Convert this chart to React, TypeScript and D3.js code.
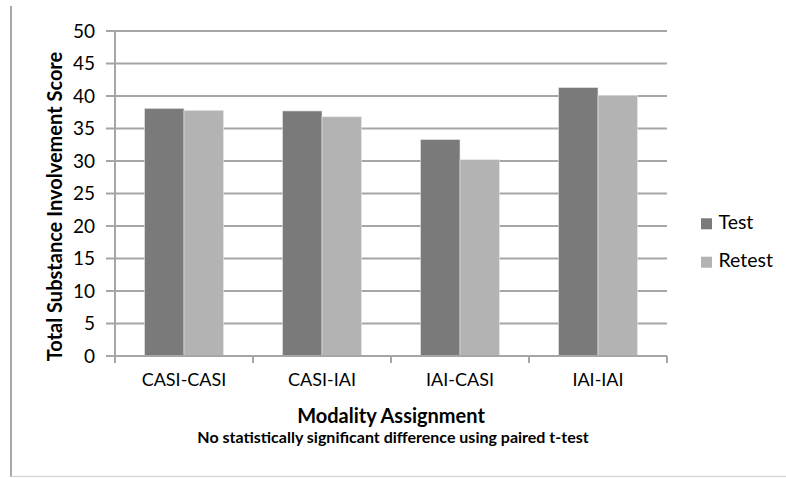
import React from "react";
import * as d3 from "d3";

const categories = ["CASI-CASI", "CASI-IAI", "IAI-CASI", "IAI-IAI"];
const seriesNames = ["Test", "Retest"];
const testValues = [38.1, 37.7, 33.3, 41.3];
const retestValues = [37.8, 36.8, 30.2, 40.1];
const yTicks = [0, 5, 10, 15, 20, 25, 30, 35, 40, 45, 50];
const colors = ["#7a7a7a", "#b3b3b3"];
const yTitle = "Total Substance Involvement Score";
const xTitle = "Modality Assignment";
const note = "No statistically significant difference using paired t-test";

const W = 786;
const H = 478;
const FONT = "Lato, 'Open Sans', sans-serif";

export default function App() {
  const left = 115, right = 667, top = 31, bottom = 356;
  const y = d3.scaleLinear().domain([0, 50]).range([bottom, top]);
  const x = d3.scaleBand<string>().domain(categories).range([left, right]).padding(0);
  const xs = d3
    .scaleBand<string>()
    .domain(seriesNames)
    .range([0, x.bandwidth()])
    .paddingInner(0)
    .paddingOuter(0.747);
  const series = [testValues, retestValues];
  const boundaries = [...categories.map((c) => x(c) as number), right];

  return (
    <svg
      width={W}
      height={H}
      style={{ position: "absolute", left: 0, top: 0, background: "#fff" }}
      fontFamily={FONT}
    >
      {/* frame */}
      <line x1={11} x2={11} y1={6} y2={477} stroke="#a9a9a9" strokeWidth={2} />
      <line x1={11} x2={W} y1={476.5} y2={476.5} stroke="#d9d9d9" strokeWidth={1.5} />

      {/* gridlines + y ticks */}
      {yTicks.map((t) => (
        <g key={t}>
          <line x1={106} x2={right} y1={y(t)} y2={y(t)} stroke="#a6a6a6" strokeWidth={2} />
          <text x={95} y={y(t)} dy="0.36em" textAnchor="end" fontSize={19} fill="#000">
            {t}
          </text>
        </g>
      ))}

      {/* bars */}
      {categories.map((c, i) => (
        <g key={c}>
          {seriesNames.map((s, j) => (
            <rect
              key={s}
              x={(x(c) as number) + (xs(s) as number)}
              y={y(series[j][i])}
              width={xs.bandwidth()}
              height={bottom - y(series[j][i])}
              fill={colors[j]}
              stroke="#e8e8e8"
              strokeWidth={0.6}
            />
          ))}
        </g>
      ))}

      {/* axes */}
      <line x1={left} x2={left} y1={top} y2={bottom + 1} stroke="#a6a6a6" strokeWidth={2} />
      <line x1={106} x2={right} y1={bottom} y2={bottom} stroke="#a6a6a6" strokeWidth={2} />
      {boundaries.map((b, i) => (
        <line key={i} x1={b} x2={b} y1={bottom} y2={363} stroke="#a6a6a6" strokeWidth={2} />
      ))}
      {categories.map((c) => (
        <text
          key={c}
          x={(x(c) as number) + x.bandwidth() / 2}
          y={386}
          textAnchor="middle"
          fontSize={18}
          fill="#000"
        >
          {c}
        </text>
      ))}

      {/* titles */}
      <text
        transform={`translate(62, ${206.5}) rotate(-90)`}
        textAnchor="middle"
        fontSize={20}
        fontWeight="bold"
        fill="#000"
      >
        {yTitle}
      </text>
      <text x={391} y={423} textAnchor="middle" fontSize={20} fontWeight="bold" fill="#000">
        {xTitle}
      </text>
      <text x={393} y={443} textAnchor="middle" fontSize={16} fontWeight="bold" fill="#000">
        {note}
      </text>

      {/* legend */}
      {seriesNames.map((s, j) => (
        <g key={s} transform={`translate(701, ${218.3 + j * 38.4})`}>
          <rect width={11} height={11} fill={colors[j]} />
          <text x={17.5} y={10.5} fontSize={19.5} fill="#000">
            {s}
          </text>
        </g>
      ))}
    </svg>
  );
}
